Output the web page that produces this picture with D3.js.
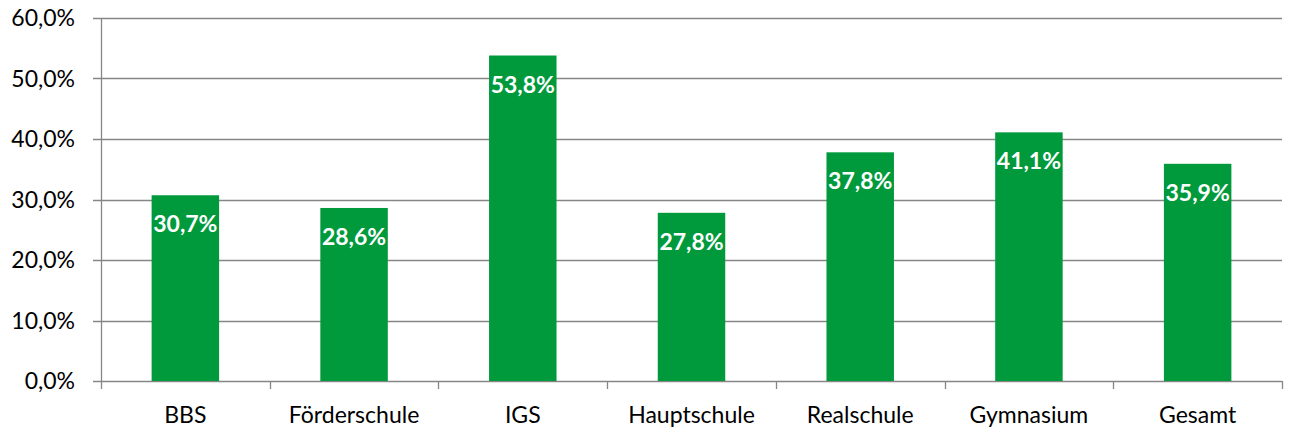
<!DOCTYPE html>
<html>
<head>
<meta charset="utf-8">
<script src="https://cdn.jsdelivr.net/npm/d3@7"></script>
<style>
  body { margin: 0; background: #fff; }
  svg { display: block; font-family: Lato, "Open Sans", sans-serif; }
</style>
</head>
<body>
<svg width="1291" height="432"></svg>
<script>
const svg = d3.select("svg");

// Data
const categories = ["BBS", "Förderschule", "IGS", "Hauptschule", "Realschule", "Gymnasium", "Gesamt"];
const values = [30.7, 28.6, 53.8, 27.8, 37.8, 41.1, 35.9];
const yTicks = [0, 10, 20, 30, 40, 50, 60];

const plotLeft = 101, plotRight = 1282, plotTop = 18, plotBottom = 381;
const fmt = v => d3.format(".1f")(v).replace(".", ",") + "%";

const x = d3.scaleBand().domain(categories).range([plotLeft, plotRight]).paddingInner(0.6).paddingOuter(0.3);
const xb = d3.scaleBand().domain(categories).range([plotLeft, plotRight]);
const y = d3.scaleLinear().domain([0, 60]).range([plotBottom, plotTop]);

// Gridlines
svg.append("g")
  .selectAll("line")
  .data(yTicks)
  .join("line")
  .attr("x1", plotLeft - 8)
  .attr("x2", plotRight)
  .attr("y1", d => Math.round(y(d)) + 0.5)
  .attr("y2", d => Math.round(y(d)) + 0.5)
  .attr("stroke", "#868686")
  .attr("stroke-width", 1.3);

// Y axis line
svg.append("line")
  .attr("x1", plotLeft + 0.5).attr("x2", plotLeft + 0.5)
  .attr("y1", plotTop).attr("y2", plotBottom)
  .attr("stroke", "#868686").attr("stroke-width", 1.3);

// Category boundary ticks
const bounds = categories.map(c => xb(c)).concat([plotRight]);
svg.append("g")
  .selectAll("line")
  .data(bounds)
  .join("line")
  .attr("x1", d => Math.round(d) + 0.5)
  .attr("x2", d => Math.round(d) + 0.5)
  .attr("y1", plotBottom)
  .attr("y2", plotBottom + 8)
  .attr("stroke", "#868686")
  .attr("stroke-width", 1.3);

// Y tick labels
svg.append("g")
  .selectAll("text")
  .data(yTicks)
  .join("text")
  .attr("x", 75)
  .attr("y", d => y(d))
  .attr("dy", "0.35em")
  .attr("text-anchor", "end")
  .attr("font-size", 23)
  .attr("fill", "#000")
  .text(d => fmt(d));

// Bars
svg.append("g")
  .selectAll("rect")
  .data(values)
  .join("rect")
  .attr("x", (d, i) => x(categories[i]))
  .attr("width", x.bandwidth())
  .attr("y", d => y(d))
  .attr("height", d => y(0) - y(d))
  .attr("fill", "#009a3d");

// Value labels
svg.append("g")
  .selectAll("text")
  .data(values)
  .join("text")
  .attr("x", (d, i) => x(categories[i]) + x.bandwidth() / 2)
  .attr("y", d => y(d) + 37)
  .attr("text-anchor", "middle")
  .attr("font-size", 23)
  .attr("font-weight", "bold")
  .attr("fill", "#fff")
  .text(d => fmt(d));

// Category labels
svg.append("g")
  .selectAll("text")
  .data(categories)
  .join("text")
  .attr("x", d => xb(d) + xb.bandwidth() / 2)
  .attr("y", 423)
  .attr("text-anchor", "middle")
  .attr("font-size", 23)
  .attr("fill", "#000")
  .text(d => d);
</script>
</body>
</html>
